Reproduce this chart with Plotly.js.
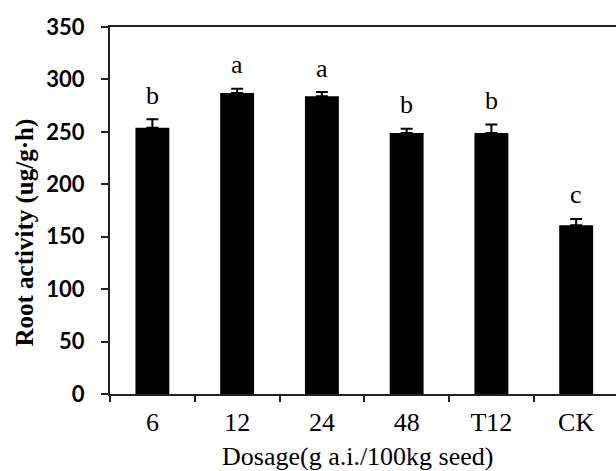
<!DOCTYPE html>
<html>
<head>
<meta charset="utf-8">
<script src="https://cdn.plot.ly/plotly-3.0.1.min.js"></script>
<style>html,body{margin:0;padding:0;background:#fff;}#chart{width:616px;height:471px;}</style>
</head>
<body>
<div id="chart"></div>
<script>
const categories = ["6", "12", "24", "48", "T12", "CK"];
const rootActivity = [254, 287, 284, 249, 249, 161];
const errorValues = [8, 4, 4, 4, 8, 6];
const significance = ["b", "a", "a", "b", "b", "c"];
const yTicks = [0, 50, 100, 150, 200, 250, 300, 350];

const serif = "Liberation Serif, Times New Roman, serif";

const trace = {
  type: "bar",
  x: categories,
  y: rootActivity,
  marker: {color: "#000000", line: {width: 0}},
  width: 0.4,
  error_y: {
    type: "data",
    array: errorValues,
    arrayminus: errorValues.map(() => 0),
    symmetric: false,
    color: "#000000",
    thickness: 2,
    width: 6,
    visible: true
  },
  hoverinfo: "skip"
};

const annotations = categories.map((c, i) => ({
  x: i,
  y: rootActivity[i] + errorValues[i],
  xref: "x",
  yref: "y",
  text: significance[i],
  showarrow: false,
  yanchor: "middle",
  yshift: 24,
  font: {family: serif, size: 26, color: "#000"}
}));

annotations.push({
  xref: "paper", yref: "paper",
  x: -0.168, y: 0.44,
  xanchor: "center", yanchor: "middle",
  text: "Root activity (ug/g·h)",
  textangle: -90,
  showarrow: false,
  font: {family: serif, size: 25, color: "#000", weight: "bold"}
});

annotations.push({
  xref: "paper", yref: "paper",
  x: 0.49, y: -0.17,
  xanchor: "center", yanchor: "middle",
  text: "Dosage(g a.i./100kg seed)",
  showarrow: false,
  font: {family: serif, size: 26, color: "#000"}
});

const layout = {
  width: 616,
  height: 471,
  margin: {l: 110, r: 0, t: 27, b: 77, pad: 0},
  paper_bgcolor: "#ffffff",
  plot_bgcolor: "#ffffff",
  showlegend: false,
  bargap: 0.6,
  xaxis: {
    type: "category",
    range: [-0.5, 5.47],
    showline: true,
    linecolor: "#222",
    linewidth: 2,
    mirror: true,
    ticks: "outside",
    tickson: "boundaries",
    ticklen: 6,
    tickwidth: 2,
    tickcolor: "#222",
    showgrid: false,
    zeroline: false,
    tickfont: {family: serif, size: 26, color: "#000"},
    ticklabelstandoff: 4,
    automargin: false
  },
  yaxis: {
    range: [0, 350],
    tickvals: yTicks,
    ticktext: yTicks.map(String),
    showline: true,
    linecolor: "#222",
    linewidth: 2,
    ticks: "outside",
    ticklen: 7,
    tickwidth: 2,
    tickcolor: "#222",
    showgrid: false,
    zeroline: false,
    tickfont: {family: "Lato, Open Sans, sans-serif", size: 22, color: "#000", weight: "bold"},
    ticklabelstandoff: 12,
    automargin: false
  },
  annotations: annotations
};

Plotly.newPlot("chart", [trace], layout, {staticPlot: true, displayModeBar: false});
</script>
</body>
</html>
